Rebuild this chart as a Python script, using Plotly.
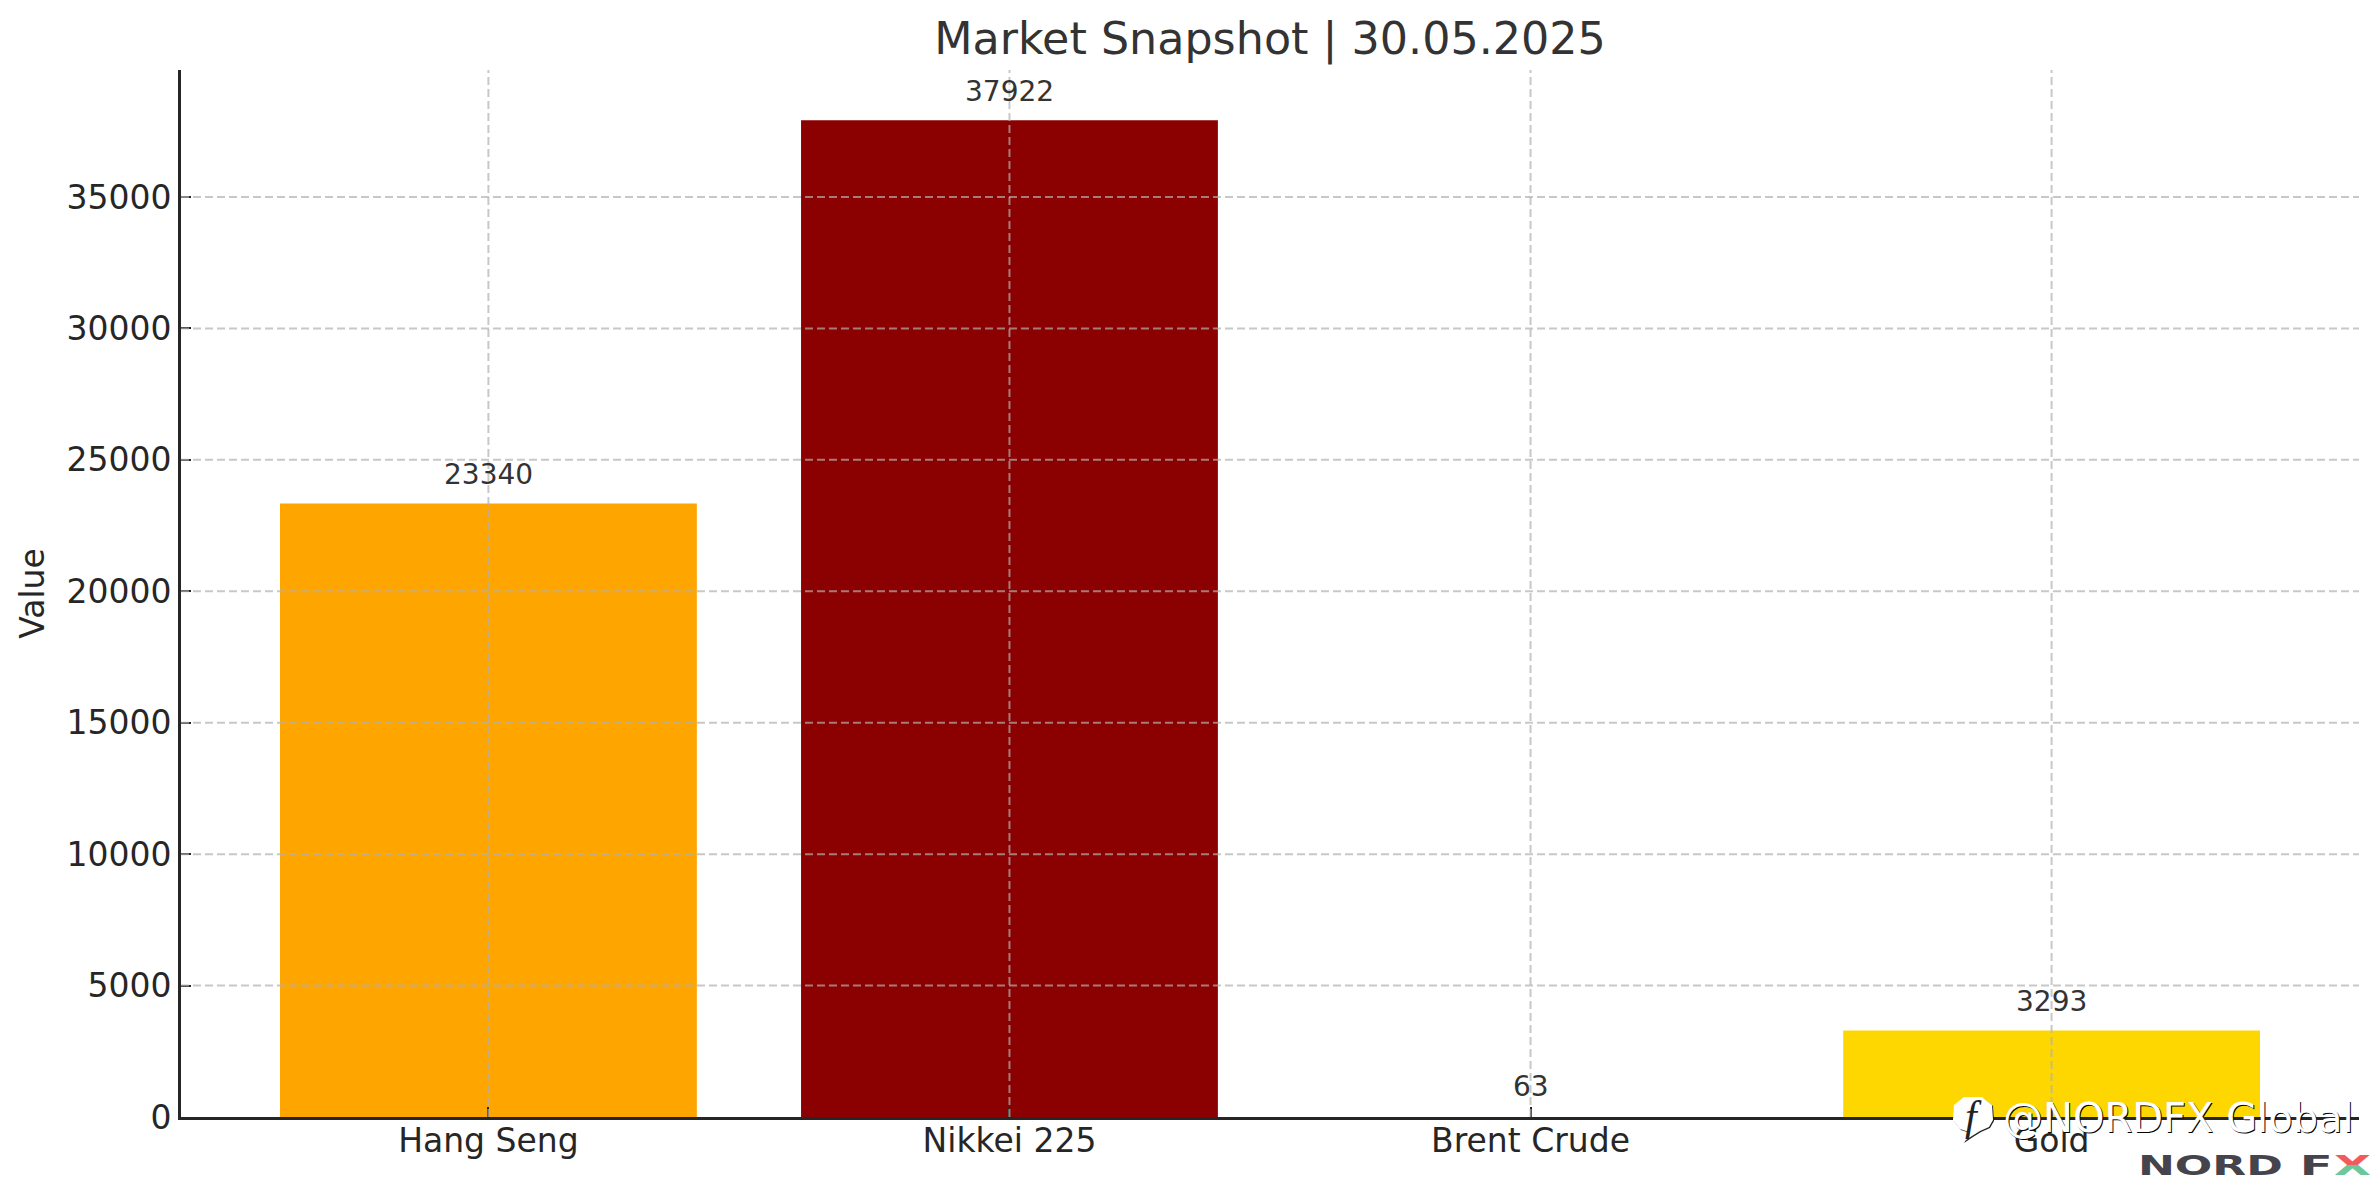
import plotly.graph_objects as go

categories = ["Hang Seng", "Nikkei 225", "Brent Crude", "Gold"]
values = [23340, 37922, 63, 3293]
colors = ["#FFA500", "#8B0000", "#FFFFFF", "#FFD700"]
y_ticks = [0, 5000, 10000, 15000, 20000, 25000, 30000, 35000]
x_range = [-0.59, 3.59]
y_max = 39830

W, H = 2379, 1180
L, R, T, B = 181, 2359, 70, 1117
FONT = "DejaVu Sans"
GRID = "rgba(176,176,176,0.7)"
DARK = "#262626"


def px(x):
    return (x - L) / (R - L)


def py(y):
    return (B - y) / (B - T)


fig = go.Figure()
fig.add_bar(x=categories, y=values, marker=dict(color=colors, line_width=0),
            width=0.8, showlegend=False, hoverinfo="x+y")

grid_line = dict(color=GRID, width=2, dash="8px,4px")
for t in y_ticks[1:]:
    fig.add_shape(type="line", xref="paper", yref="y", x0=0, x1=1, y0=t, y1=t,
                  line=grid_line, layer="above")
for i, c in enumerate(categories):
    fig.add_shape(type="line", xref="x", yref="paper", x0=i, x1=i, y0=0, y1=1,
                  line=grid_line, layer="above")

for c, v in zip(categories, values):
    fig.add_annotation(x=c, y=v, text=str(v), showarrow=False, yanchor="bottom", yshift=10,
                       font=dict(family=FONT, size=28, color="#333333"))


def badge(dx, dy, color):
    pts = [(1964, 1097), (1982, 1097), (1992, 1105), (1993, 1120), (1989, 1127), (1980, 1131),
           (1972, 1136), (1963, 1142), (1969, 1132), (1960, 1129), (1953, 1120), (1954, 1105)]
    path = "M " + " L ".join(f"{px(x + dx):.5f},{py(y + dy):.5f}" for x, y in pts) + " Z"
    fig.add_shape(type="path", xref="paper", yref="paper", layer="above", path=path,
                  fillcolor=color, line=dict(width=0))


badge(1, 1, "#222222")
badge(0, 0, "white")
fig.add_annotation(xref="paper", yref="paper", x=px(1973), y=py(1116), text="<i>f</i>",
                   showarrow=False, xanchor="center", yanchor="middle",
                   font=dict(family="Liberation Serif", size=42, color="#222222"))
fig.add_annotation(xref="paper", yref="paper", x=px(2001), y=py(1118),
                   text="@NORDFX Global", showarrow=False, xanchor="left", yanchor="middle",
                   font=dict(family=FONT, size=40, color="white",
                             shadow="1px 1px 0px #000000"))

for txt, cx, color in [("NORD", 2210, "#45434C"), ("F", 2316, "#45434C"), ("X", 2352, "#6CC799")]:
    fig.add_annotation(xref="paper", yref="paper", x=px(cx), y=py(1165), text=f"<b>{txt}</b>",
                       showarrow=False, xanchor="center", yanchor="middle", name="logo",
                       font=dict(family=FONT, size=27, color=color))

fig.update_layout(
    width=W, height=H, autosize=False,
    margin=dict(l=L, r=W - R, t=T, b=H - B, pad=0),
    paper_bgcolor="white", plot_bgcolor="white",
    font=dict(family=FONT, color=DARK),
    title=dict(text="Market Snapshot | 30.05.2025", x=1270 / W, xanchor="center",
               y=1 - 38 / H, yanchor="middle", font=dict(family=FONT, size=44.4, color="#333333")),
    xaxis=dict(type="category", range=x_range, showgrid=False, showline=True, linecolor=DARK,
               linewidth=3, ticks="inside", ticklen=10, tickwidth=2, tickcolor=DARK,
               ticklabelstandoff=-8,
               tickfont=dict(family=FONT, size=33, color=DARK), layer="above traces", zeroline=False),
    yaxis=dict(range=[0, y_max], tickmode="array", tickvals=y_ticks, ticktext=[str(t) for t in y_ticks],
               showgrid=False, showline=True, linecolor=DARK, linewidth=3, ticks="inside", ticklen=10,
               tickwidth=2, tickcolor=DARK, tickfont=dict(family=FONT, size=33, color=DARK),
               title=dict(text="Value", font=dict(family=FONT, size=33, color=DARK), standoff=12),
               layer="above traces", zeroline=False),
)

post = """
document.body.style.margin = '0';
document.documentElement.style.overflow = 'hidden';
var svg = document.querySelector('.main-svg');
var ns = 'http://www.w3.org/2000/svg';
var defs = document.createElementNS(ns, 'defs');
defs.innerHTML = '<linearGradient id="fxg" x1="0" y1="0" x2="0" y2="1">' +
  '<stop offset="0.48" stop-color="#F15B5B"/><stop offset="0.48" stop-color="#6CC799"/></linearGradient>';
svg.appendChild(defs);
var lens = {NORD: 145, F: 33, X: 37};
document.querySelectorAll('.annotation-text').forEach(function (t) {
  var k = t.textContent.trim();
  if (!(k in lens)) return;
  t.setAttribute('textLength', lens[k]);
  t.setAttribute('lengthAdjust', 'spacingAndGlyphs');
  t.querySelectorAll('tspan').forEach(function (s) {
    s.setAttribute('textLength', lens[k]);
    s.setAttribute('lengthAdjust', 'spacingAndGlyphs');
  });
  if (k === 'X') t.style.fill = 'url(#fxg)';
});
"""
fig.write_html("out.html", config={"displayModeBar": False}, post_script=post)
